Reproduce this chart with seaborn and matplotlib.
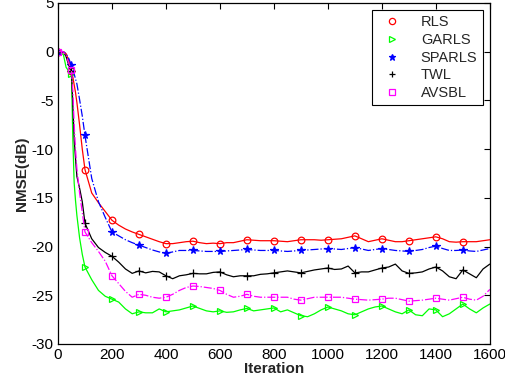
import numpy as np
import pandas as pd
import matplotlib
matplotlib.use("Agg")
import matplotlib.pyplot as plt
import seaborn as sns
from matplotlib.lines import Line2D

# ---- data ----
iterations = [0, 20, 30, 40, 50, 55, 60, 65, 70, 80, 90, 100, 125, 150, 175, 200, 225, 250, 275,
              300, 325, 350, 375, 400, 425, 450, 475, 500, 525, 550, 575, 600, 625, 650, 675,
              700, 725, 750, 775, 800, 825, 850, 875, 900, 925, 950, 975, 1000, 1025, 1050, 1075,
              1100, 1125, 1150, 1175, 1200, 1225, 1250, 1275, 1300, 1325, 1350, 1375, 1400, 1425,
              1450, 1475, 1500, 1525, 1550, 1575, 1600]

rls = [0, 0, -0.2, -0.9, -2.0, -2.6, -3.4, -4.2, -5.2, -7.5, -10.0, -12.1, -14.5, -15.5, -16.4, -17.3, -17.8, -18.2, -18.5,
       -18.75, -19.0, -19.25, -19.5, -19.7, -19.7, -19.6, -19.5, -19.45, -19.6, -19.7, -19.65, -19.7, -19.6, -19.6, -19.45,
       -19.3, -19.35, -19.4, -19.4, -19.4, -19.45, -19.5, -19.4, -19.3, -19.3, -19.3, -19.35, -19.3, -19.25, -19.2, -19.05,
       -18.9, -19.2, -19.5, -19.35, -19.2, -19.35, -19.5, -19.5, -19.4, -19.3, -19.2, -19.1, -19.0, -19.2,
       -19.5, -19.55, -19.5, -19.5, -19.5, -19.4, -19.3]

garls = [0, -0.3, -1.6, -2.0, -2.3, -9.0, -13.5, -15.3, -16.8, -19.1, -20.8, -22.1, -23.4, -24.5, -25.1, -25.4, -25.7, -26.4, -26.9,
         -26.7, -26.8, -26.8, -26.4, -26.7, -26.6, -26.5, -26.3, -26.1, -26.35, -26.6, -26.7, -26.6, -26.75, -26.7, -26.5,
         -26.35, -26.6, -26.5, -26.4, -26.3, -26.7, -26.5, -26.8, -27.1, -27.2, -26.9, -26.5, -26.2, -26.4, -26.6, -26.9,
         -27.0, -26.7, -26.4, -26.2, -26.1, -26.4, -26.7, -26.9, -26.5, -27.0, -27.1, -26.4, -26.5, -27.2,
         -26.9, -26.4, -25.9, -26.4, -26.8, -26.3, -25.9]

sparls = [0, 0, -0.2, -0.7, -1.4, -1.8, -2.3, -2.8, -3.3, -4.9, -6.6, -8.6, -13.0, -15.4, -17.0, -18.5, -18.9, -19.3, -19.6,
          -19.85, -20.1, -20.35, -20.55, -20.7, -20.55, -20.4, -20.4, -20.4, -20.45, -20.5, -20.5, -20.5, -20.45, -20.4, -20.35,
          -20.3, -20.35, -20.4, -20.4, -20.4, -20.45, -20.5, -20.45, -20.4, -20.35, -20.3, -20.25, -20.2, -20.25, -20.3, -20.2,
          -20.1, -20.25, -20.4, -20.3, -20.2, -20.3, -20.4, -20.45, -20.5, -20.4, -20.3, -20.1, -19.95, -20.2,
          -20.4, -20.4, -20.35, -20.45, -20.5, -20.35, -20.2]

twl = [0, 0, -0.5, -1.4, -2.0, -5.5, -9.0, -11.0, -12.8, -14.0, -15.4, -17.6, -19.2, -20.1, -20.6, -21.0, -21.6, -22.3, -22.75,
       -22.5, -22.7, -22.55, -22.6, -23.0, -23.3, -23.0, -22.9, -22.75, -22.8, -22.8, -22.65, -22.6, -22.9, -23.1, -23.0,
       -23.0, -23.0, -22.85, -22.8, -22.7, -22.6, -22.5, -22.6, -22.7, -22.55, -22.4, -22.3, -22.2, -22.35, -22.3, -22.0,
       -22.7, -22.6, -22.6, -22.4, -22.2, -22.1, -21.8, -22.5, -22.75, -22.7, -22.6, -22.3, -22.1, -22.5,
       -23.1, -23.3, -22.4, -22.8, -23.2, -22.3, -21.8]

avsbl = [0, 0, -0.4, -1.2, -1.9, -4.0, -7.5, -10.0, -12.0, -14.5, -16.5, -18.5, -19.6, -20.5, -21.5, -23.0, -23.8, -24.6, -25.2,
         -24.9, -25.0, -25.2, -25.3, -25.2, -24.9, -24.5, -24.2, -24.05, -24.1, -24.2, -24.3, -24.5, -24.9, -25.2, -25.1,
         -24.9, -25.1, -25.2, -25.2, -25.2, -25.2, -25.2, -25.4, -25.5, -25.35, -25.2, -25.2, -25.2, -25.2, -25.2, -25.3,
         -25.4, -25.45, -25.5, -25.45, -25.4, -25.3, -25.3, -25.45, -25.6, -25.55, -25.5, -25.4, -25.3, -25.4,
         -25.5, -25.35, -25.2, -25.4, -25.5, -25.1, -24.4]

series_names = ["RLS", "GARLS", "SPARLS", "TWL", "AVSBL"]
marker_iters = [0, 50] + list(range(100, 1501, 100))
x_ticks = list(range(0, 1601, 200))
y_ticks = list(range(-30, 6, 5))

# ---- styling ----
sns.set_theme(style="white")
plt.rcParams["font.family"] = ["Liberation Sans", "DejaVu Sans"]
plt.rcParams["axes.unicode_minus"] = False

styles = {
    "RLS": dict(color=(1, 0, 0), ls="-", marker="o", ms=4.8, fill=False),
    "GARLS": dict(color=(0, 1, 0), ls="-", marker=">", ms=4.8, fill=False),
    "SPARLS": dict(color=(0, 0, 1), ls="-.", marker="*", ms=5.5, fill=True),
    "TWL": dict(color=(0, 0, 0), ls="-", marker="+", ms=5.5, fill=False),
    "AVSBL": dict(color=(1, 0, 1), ls="-.", marker="s", ms=4.8, fill=False),
}

data = {"RLS": rls, "GARLS": garls, "SPARLS": sparls, "TWL": twl, "AVSBL": avsbl}

fig = plt.figure(figsize=(5.06, 3.89), dpi=100)
ax = fig.add_axes([0.1146, 0.1157, 0.8534, 0.8766])

mk_idx = [i for i, v in enumerate(iterations) if v in marker_iters]

for name in series_names:
    st = styles[name]
    df = pd.DataFrame({"Iteration": iterations, "NMSE": data[name]})
    sns.lineplot(data=df, x="Iteration", y="NMSE", ax=ax, color=st["color"],
                 linestyle=st["ls"], linewidth=0.9, estimator=None, sort=False)
    mk = df.iloc[mk_idx]
    ax.plot(mk["Iteration"], mk["NMSE"], linestyle="none", marker=st["marker"],
            markersize=st["ms"], mfc=st["color"] if st["fill"] else "none",
            mec=st["color"], mew=0.9, color=st["color"])

ax.set_xlim(0, 1600)
ax.set_ylim(-30, 5)
ax.set_xticks(x_ticks)
ax.set_yticks(y_ticks)
ax.tick_params(direction="in", top=True, right=True, length=4, width=0.8,
               labelsize=11, colors="black", pad=3)
for s in ax.spines.values():
    s.set_color("black")
    s.set_linewidth(0.9)
ax.set_xlabel("Iteration", fontsize=11, fontweight="bold", labelpad=0)
ax.set_ylabel("NMSE(dB)", fontsize=11, fontweight="bold", labelpad=2)

handles = [Line2D([], [], linestyle="none", marker=styles[n]["marker"],
                  mfc=styles[n]["color"] if styles[n]["fill"] else "none",
                  mec=styles[n]["color"], markersize=4.5, mew=0.9) for n in series_names]
leg = ax.legend(handles, series_names, loc="upper right", fontsize=10.5, frameon=True,
                fancybox=False, edgecolor="black", framealpha=1, borderpad=0.35,
                handletextpad=1.0, labelspacing=0.25, borderaxespad=0.5, handlelength=2.0)
leg.get_frame().set_linewidth(0.8)

fig.savefig("out.png", dpi=100)
